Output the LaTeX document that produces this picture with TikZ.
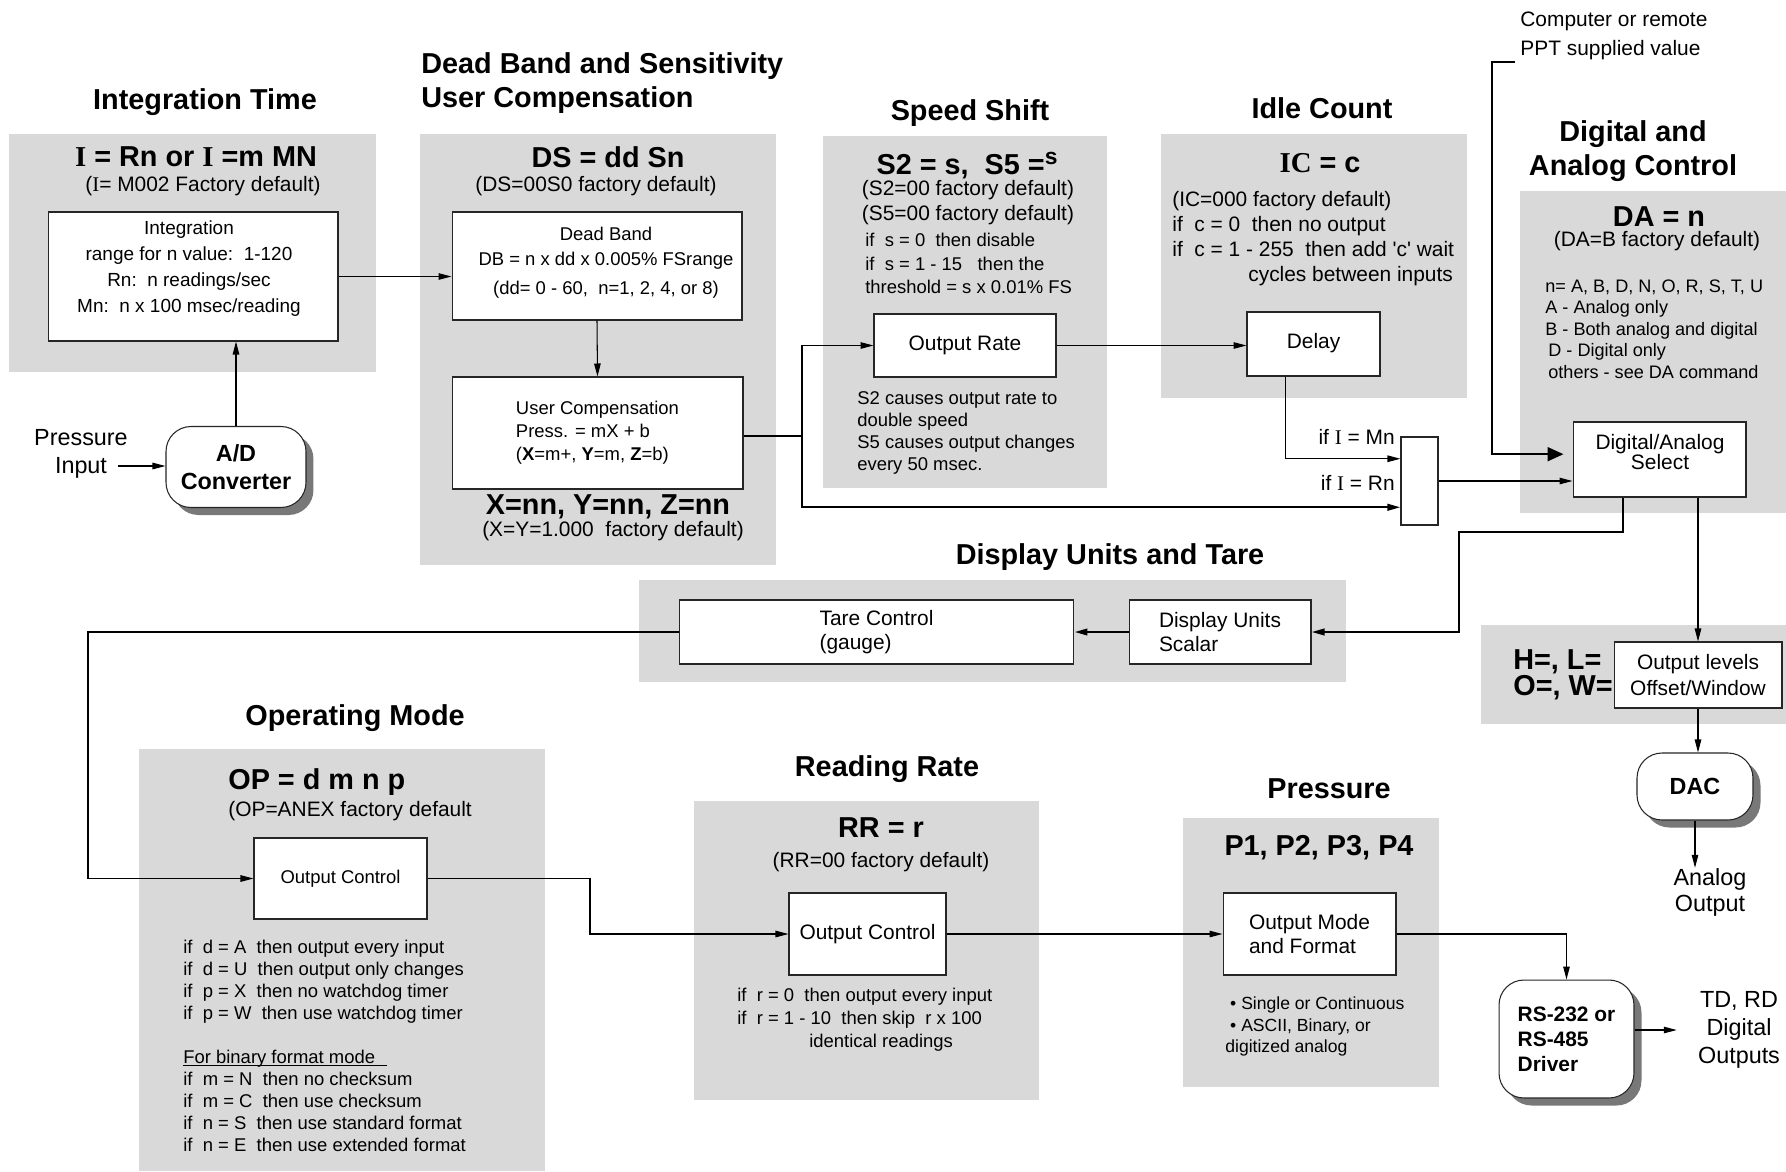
\documentclass[tikz,border=0pt]{standalone}
\usepackage{fontspec}
\setmainfont{Liberation Sans}
\newfontfamily\serifI{Liberation Serif}
\usetikzlibrary{positioning, arrows.meta, fit, shadows, calc}
\definecolor{panelgray}{RGB}{217, 217, 217}
\definecolor{shadowgray}{RGB}{120, 120, 120}
\newcommand\ftitle{\fontsize{16.4}{19.8}\selectfont\bfseries}
\newcommand\fmed{\fontsize{11.9}{14.2}\selectfont}
\newcommand\fsmall{\fontsize{10.5}{12.6}\selectfont}
\newcommand\flabel{\fontsize{13.3}{15.9}\selectfont}

\begin{document}
\begin{tikzpicture}[
  x=0.02cm, y=-0.02cm,
  panel/.style={fill=panelgray, inner sep=0pt},
  blk/.style={draw=black!85, fill=white, line width=0.6pt, inner sep=2pt},
  rblk/.style={blk, rounded corners=0.5cm,
    drop shadow={shadow xshift=0.15cm, shadow yshift=-0.15cm,
                 fill=shadowgray, opacity=1}},
  txt/.style={inner sep=0pt},
  arr/.style={-{Triangle[length=0.26cm,width=0.13cm]}, line width=0.6pt},
  thickarr/.style={arr, line width=1.3pt},
  bigarr/.style={-{Triangle[length=0.32cm,width=0.28cm]}, line width=1.1pt}
]
\useasboundingbox (0,0) rectangle (1786,1171);
\fill[white] (0,0) rectangle (1786,1171);

% ── Gray panels ───────────────────────────────────────────────────────────────
\node[panel, fit={(9,134) (376,372)}]     (pint) {};
\node[panel, fit={(420,134) (776,565)}]   (pds)  {};
\node[panel, fit={(823,136) (1107,488)}]  (pss)  {};
\node[panel, fit={(1161,134) (1467,398)}] (pic)  {};
\node[panel, fit={(1520,191) (1786,513)}] (pda)  {};
\node[panel, fit={(639,580) (1346,682)}]  (pdu)  {};
\node[panel, fit={(1481,625) (1786,724)}] (phl)  {};
\node[panel, fit={(139,749) (545,1171)}]  (pop)  {};
\node[panel, fit={(694,801) (1039,1100)}] (prr)  {};
\node[panel, fit={(1183,818) (1439,1087)}](ppr)  {};

% ── Titles ────────────────────────────────────────────────────────────────────
\node[txt, font=\ftitle] (tint) at (205,102) {Integration Time};
\node[txt, font=\ftitle, align=left, anchor=west] (tds) at (421,83)
  {Dead Band and Sensitivity\\User Compensation};
\node[txt, font=\ftitle] (tss) at (970,113) {Speed Shift};
\node[txt, font=\ftitle] (tic) at (1322,108) {Idle Count};
\node[txt, font=\ftitle, align=center] (tda) at (1633,151)
  {Digital and\\Analog Control};
\node[txt, font=\ftitle] (tdu) at (1110,557) {Display Units and Tare};
\node[txt, font=\ftitle] (tom) at (355,718) {Operating Mode};
\node[txt, font=\ftitle] (trr) at (887,769) {Reading Rate};
\node[txt, font=\ftitle] (tpr) at (1329,789) {Pressure};

% ── Integration time ─────────────────────────────────────────────────────────
\node[txt, font=\ftitle] (cint) at (196,157)
  {{\serifI I} = Rn or {\serifI I} =m MN};
\node[txt, font=\fmed] (dint) at (203,186) {({\serifI I}= M002 Factory default)};

% ── Dead band / user compensation ────────────────────────────────────────────
\node[txt, font=\ftitle] (cds) at (608,157) {DS = dd Sn};
\node[txt, font=\fmed] (dds) at (596,186) {(DS=00S0 factory default)};
\node[txt, font=\ftitle] (cxyz) at (608,507) {X=nn, Y=nn, Z=nn};
\node[txt, font=\fmed] (dxyz) at (613,531) {(X=Y=1.000\ \ factory default)};

% ── Speed shift ──────────────────────────────────────────────────────────────
\node[txt, font=\ftitle] (css) at (967,166)
  {S2 = s,\ \ S5 =\raisebox{0.35em}{\fontsize{13}{13}\selectfont s}};
\node[txt, font=\fmed, align=center] (dss) at (968,202.5)
  {(S2=00 factory default)\\(S5=00 factory default)};
\node[txt, font=\fontsize{10.5}{13.2}\selectfont, align=left, anchor=west] (rss)
  at (865,263.5)
  {if\ \ s = 0\ \ then disable\\if\ \ s = 1 - 15\ \ \ then the\\threshold = s x 0.01\% FS};
\node[txt, font=\fsmall, align=left, anchor=west] (nss) at (857,433)
  {S2 causes output rate to\\double speed\\S5 causes output changes\\every 50 msec.};

% ── Idle count ───────────────────────────────────────────────────────────────
\node[txt, font=\ftitle] (cic) at (1320,163) {{\serifI IC} = c};
\node[txt, font=\fmed, align=left, anchor=west] (ric) at (1172,239)
  {(IC=000 factory default)\\
   if\ \ c = 0\ \ then no output\\
   if\ \ c = 1 - 255\ \ then add \textquotesingle c\textquotesingle\ wait\\
   \hspace*{1.52cm}cycles between inputs};
\node[txt, font=\fmed, anchor=east] (lmn) at (1395,437) {if {\serifI I} = Mn};
\node[txt, font=\fmed, anchor=east] (lrn) at (1395,483) {if {\serifI I} = Rn};

% ── Digital and analog control ───────────────────────────────────────────────
\node[txt, font=\fontsize{11.9}{16.6}\selectfont, align=left, anchor=south west]
  (comp) at (1520,60) {Computer or remote\\PPT supplied value};
\node[txt, font=\ftitle] (cda) at (1659,217) {DA = n};
\node[txt, font=\fmed] (dda) at (1657,241) {(DA=B factory default)};
\node[txt, font=\fontsize{10.3}{12.2}\selectfont, align=left, anchor=west] (rda)
  at (1545,329)
  {n= A, B, D, N, O, R, S, T, U\\A - Analog only\\B - Both analog and digital\\
   \hspace*{0.06cm}D - Digital only\\\hspace*{0.06cm}others - see DA command};
\node[txt, font=\fontsize{16.4}{13}\selectfont\bfseries, align=left, anchor=west]
  (chl) at (1513,674.5) {H=, L=\\O=, W=};

% ── Operating mode ───────────────────────────────────────────────────────────
\node[txt, font=\ftitle, anchor=west] (cop) at (228,782) {OP = d m n p};
\node[txt, font=\fmed, anchor=west] (dop) at (228,811) {(OP=ANEX factory default};
\node[txt, font=\fontsize{10.5}{12.5}\selectfont, align=left, anchor=west] (rop)
  at (183,1046)
  {if\ \ d = A\ \ then output every input\\
   if\ \ d = U\ \ then output only changes\\
   if\ \ p = X\ \ then no watchdog timer\\
   if\ \ p = W\ \ then use watchdog timer\\[12.5pt]
   \makebox[0pt][l]{\rule[-1.5pt]{4.08cm}{0.5pt}}For binary format mode\\
   if\ \ m = N\ \ then no checksum\\
   if\ \ m = C\ \ then use checksum\\
   if\ \ n = S\ \ then use standard format\\
   if\ \ n = E\ \ then use extended format};

% ── Reading rate ─────────────────────────────────────────────────────────────
\node[txt, font=\ftitle] (crr) at (881,828) {RR = r};
\node[txt, font=\fmed] (drr) at (881,862) {(RR=00 factory default)};
\node[txt, font=\fontsize{10.5}{13}\selectfont, align=left, anchor=west] (rrr)
  at (737,1020)
  {if\ \ r = 0\ \ then output every input\\
   if\ \ r = 1 - 10\ \ then skip\ \ r x 100\\
   \hspace*{1.44cm}identical readings};

% ── Pressure ─────────────────────────────────────────────────────────────────
\node[txt, font=\ftitle] (cpr) at (1319,848) {P1, P2, P3, P4};
\node[txt, font=\fontsize{10}{12.2}\selectfont, align=left, anchor=west] (rpr)
  at (1225,1026.5)
  {\ \textbullet\ Single or Continuous\\\ \textbullet\ ASCII, Binary, or\\digitized analog};

% ── Free labels ──────────────────────────────────────────────────────────────
\node[txt, font=\flabel, align=center] (pin)   at (81,454)   {Pressure\\Input};
\node[txt, font=\fontsize{13.3}{14.8}\selectfont, align=center] (aout) at (1710,892)
  {Analog\\Output};
\node[txt, font=\flabel, align=center] (tdout) at (1739,1030) {TD, RD\\Digital\\Outputs};

% ── Boxes ────────────────────────────────────────────────────────────────────
\node[blk, minimum width=5.8cm, minimum height=2.58cm] (integ) at (193,276.5) {};
\node[txt, font=\fontsize{10.8}{14.7}\selectfont, align=center] (integtxt)
  at (189,268.5)
  {Integration\\range for n value:\ \ 1-120\\Rn:\ \ n readings/sec\\
   Mn:\ \ n x 100 msec/reading};
\node[rblk, minimum width=2.8cm, minimum height=1.62cm,
      font=\flabel\bfseries, align=center] (ad) at (236,467) {A/D\\Converter};

\node[blk, minimum width=5.8cm, minimum height=2.16cm] (db) at (597,266) {};
\node[txt, font=\fontsize{10.5}{14.2}\selectfont, align=center] (dbtxt)
  at (606,262.5)
  {Dead Band\\DB = n x dd x 0.005\% FSrange\\[2.5pt]
   (dd= 0 - 60,\ \ n=1, 2, 4, or 8)};
\node[blk, minimum width=5.82cm, minimum height=2.24cm,
      font=\fontsize{10.5}{13}\selectfont, align=left] (uc) at (597.5,433)
  {User Compensation\\Press. = mX + b\\
   (\textbf{X}=m+, \textbf{Y}=m, \textbf{Z}=b)};

\node[blk, minimum width=3.64cm, minimum height=1.26cm, font=\fmed] (rate)
  at (965,345.5) {Output Rate};
\node[blk, minimum width=2.66cm, minimum height=1.28cm, font=\fmed] (delay)
  at (1313.5,344) {\raisebox{0.14cm}{Delay}};
\node[blk, minimum width=0.74cm, minimum height=1.76cm] (mux) at (1419.5,481) {};

\node[blk, minimum width=3.46cm, minimum height=1.5cm] (dasel) at (1659.5,459.5) {};
\node[txt, font=\fontsize{11.9}{11.6}\selectfont, align=center] (daseltxt)
  at (1660,452) {Digital/Analog\\Select};
\node[blk, minimum width=3.36cm, minimum height=1.32cm,
      font=\fontsize{11.9}{15.2}\selectfont, align=center] (outlev) at (1698,675)
  {Output levels\\Offset/Window};
\node[rblk, minimum width=2.32cm, minimum height=1.34cm, font=\flabel\bfseries]
  (dac) at (1695,786.5) {DAC};

\node[blk, minimum width=7.9cm, minimum height=1.28cm,
      font=\fontsize{11.9}{13.2}\selectfont, align=left] (tare) at (876.5,632)
  {Tare Control\\(gauge)};
\node[blk, minimum width=3.64cm, minimum height=1.28cm,
      font=\fontsize{11.9}{13.2}\selectfont, align=left] (du) at (1220,632)
  {Display Units\\Scalar};

\node[blk, minimum width=3.46cm, minimum height=1.62cm, font=\fsmall] (opctl)
  at (340.5,878.5) {Output Control};
\node[blk, minimum width=3.14cm, minimum height=1.64cm, font=\fmed] (rrctl)
  at (867.5,934) {Output Control};
\node[blk, minimum width=3.46cm, minimum height=1.64cm,
      font=\fontsize{11.9}{13.6}\selectfont, align=left] (pmode) at (1309.5,934)
  {Output Mode\\and Format};
\node[rblk, minimum width=2.7cm, minimum height=2.36cm,
      font=\fmed\bfseries, align=left] (rs) at (1566.5,1039)
  {RS-232 or\\RS-485\\Driver};

% ── Connectors ───────────────────────────────────────────────────────────────
\coordinate (pinend) at (118,466);
\draw[arr] (pinend) -- (pinend -| ad.west);
\draw[arr] (ad.north) -- (ad.north |- integ.south);
\draw[arr] (integ.east) -- (integ.east -| db.west);
\draw[arr] (db.south) -- (uc.north);

\coordinate (split) at (802,436);
\coordinate (mnin) at ($(mux.north west)!0.25!(mux.south west)$);
\coordinate (rnin) at ($(mux.north west)!0.795!(mux.south west)$);
\draw[line width=0.6pt] (uc.east |- split) -- (split);
\draw[arr] (split) |- (rate.west);
\draw[thickarr] (split) |- (rnin);
\draw[arr] (rate.east) -- (rate.east -| delay.west);
\draw[arr] ($(delay.south west)!0.29!(delay.south east)$) |- (mnin);
\draw[arr] (mux.east) -- (mux.east -| dasel.west);

\coordinate (cstart) at (1515,62);
\coordinate (cbend) at (1492,62);
\coordinate (dain) at ($(dasel.north west)!0.43!(dasel.south west)$);
\draw[bigarr, shorten >=0.18cm] (cstart) -- (cbend) |- (dain);

\coordinate (dubend) at (1459,532);
\draw[thickarr] ($(dasel.south west)!0.29!(dasel.south east)$) |- (dubend) |- (du.east);
\draw[thickarr] (du.west) -- (tare.east);
\draw[arr] (outlev.north |- dasel.south) -- (outlev.north);
\draw[arr] (outlev.south) -- (outlev.south |- dac.north);
\draw[arr] (dac.south) -- (dac.south |- aout.north);

\coordinate (lbend) at (88,632);
\draw[arr] (tare.west) -- (lbend) |- (opctl.west);
\coordinate (opbend) at (590,878.5);
\draw[arr] (opctl.east) -- (opbend) |- (rrctl.west);
\draw[arr] (rrctl.east) -- (pmode.west);
\draw[arr] (pmode.east) -| (rs.north);
\draw[arr, shorten >=0.42cm] (rs.east |- tdout.west) -- (tdout.west);

\end{tikzpicture}
\end{document}
